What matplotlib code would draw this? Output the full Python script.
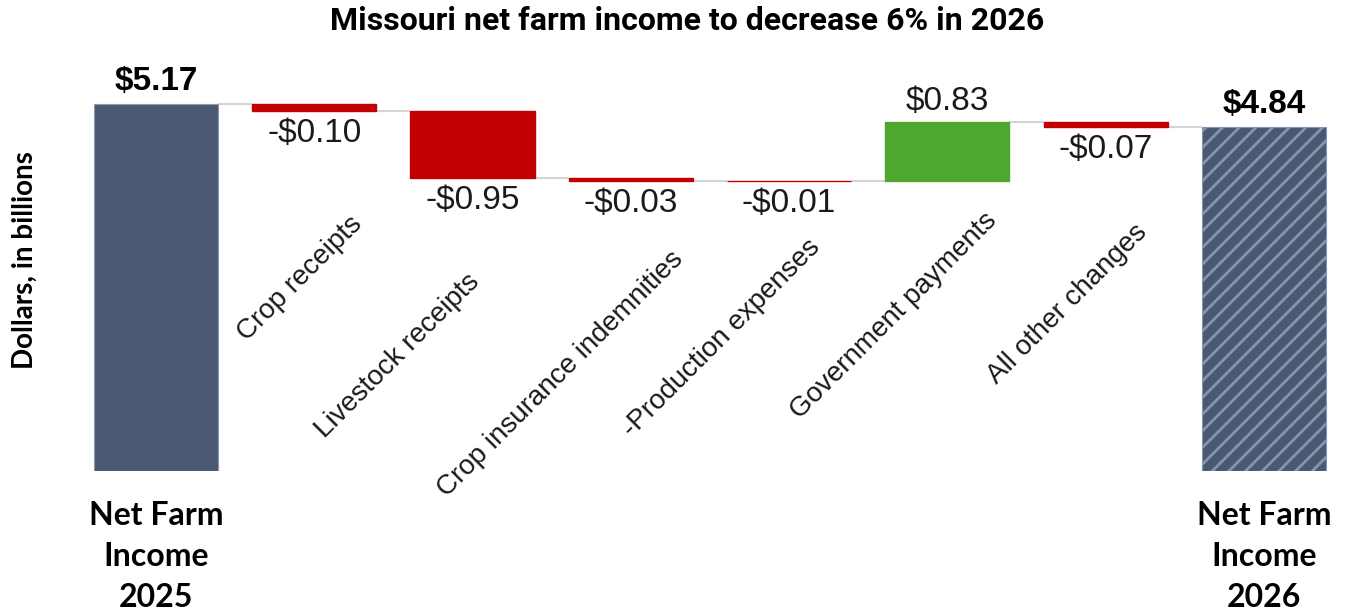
import matplotlib
matplotlib.use("Agg")
import matplotlib.pyplot as plt

# ---- data (billions of dollars) ----
start_label = "Net Farm\nIncome\n2025"
end_label = "Net Farm\nIncome\n2026"
start_value = 5.17
end_value = 4.84
change_labels = [
    "Crop receipts",
    "Livestock receipts",
    "Crop insurance indemnities",
    "-Production expenses",
    "Government payments",
    "All other changes",
]
change_values = [-0.10, -0.95, -0.03, -0.01, 0.83, -0.07]

# ---- style ----
TOTAL_COLOR = "#4A5971"
HATCH_COLOR = "#8196B0"
NEG_COLOR = "#C00000"
POS_COLOR = "#4EA72E"
CONNECTOR = "#D4D4D4"
BAR_W = 0.785

# baseline end of each rotated category name (x offset from bar centre, y in data units)
name_anchor = [(0.31, 3.46), (0.05, 2.65), (0.34, 2.97),
               (0.20, 3.14), (0.32, 3.51), (0.27, 3.35)]

plt.rcParams["hatch.linewidth"] = 2.0

fig = plt.figure(figsize=(13.48, 6.16), dpi=100)
ax = fig.add_axes([0.0571, 0.2354, 0.9392, 0.680])
ax.set_xlim(-0.5, 7.5)
ax.set_ylim(0, 5.9)
ax.axis("off")

n = len(change_values)
xs = list(range(n + 2))

# running totals for the floating bars
levels = [start_value]
for v in change_values:
    levels.append(levels[-1] + v)

# opening total
ax.bar(xs[0], start_value, width=BAR_W, color=TOTAL_COLOR,
       edgecolor="#8A98AC", linewidth=0.8, zorder=3)
# closing total, hatched
ax.bar(xs[-1], end_value, width=BAR_W, color=TOTAL_COLOR,
       edgecolor=HATCH_COLOR, linewidth=0.8, hatch="//", zorder=3)

# floating change bars
for i, v in enumerate(change_values):
    base = levels[i]
    color = POS_COLOR if v > 0 else NEG_COLOR
    ax.bar(xs[i + 1], v, bottom=base, width=BAR_W, color=color,
           edgecolor=color, linewidth=1.0, zorder=3)

# connectors between consecutive bars
conn_levels = levels + [end_value]
for i in range(n + 1):
    ax.plot([xs[i] + BAR_W / 2, xs[i + 1] - BAR_W / 2],
            [conn_levels[i], conn_levels[i]],
            color=CONNECTOR, linewidth=1.5, zorder=2, solid_capstyle="butt")

# value labels
value_font = "Liberation Sans"
for x, val in ((xs[0], start_value), (xs[-1], end_value)):
    ax.annotate(f"${val:.2f}", (x, val), xytext=(0, 5),
                textcoords="offset points", ha="center", va="bottom",
                fontsize=24, fontweight="bold", family=value_font)
for i, v in enumerate(change_values):
    top = max(levels[i], levels[i + 1])
    bot = min(levels[i], levels[i + 1])
    if v >= 0:
        ax.annotate(f"${v:.2f}", (xs[i + 1], top), xytext=(0, 4),
                    textcoords="offset points", ha="center", va="bottom",
                    fontsize=24, family=value_font, color="#1A1A1A")
    else:
        ax.annotate(f"-${abs(v):.2f}", (xs[i + 1], bot), xytext=(0, -5),
                    textcoords="offset points", ha="center", va="top",
                    fontsize=24, family=value_font, color="#1A1A1A")

# rotated category names
for i, name in enumerate(change_labels):
    dx, y = name_anchor[i]
    ax.text(xs[i + 1] + dx, y, name, rotation=45, rotation_mode="anchor",
            ha="right", va="baseline", fontsize=20, family=value_font,
            color="#1A1A1A", zorder=4)

# total category names below the axis
for x, name in ((xs[0], start_label), (xs[-1], end_label)):
    ax.text(x, -0.42, name, ha="center", va="top", fontsize=23,
            fontweight="bold", family="Lato", linespacing=1.5,
            clip_on=False)

fig.text(0.0185, 0.578, "Dollars, in billions", rotation=90,
         ha="center", va="center", fontsize=20, fontweight="bold",
         family="Lato")
fig.suptitle("Missouri net farm income to decrease 6% in 2026",
             x=0.51, y=0.99, va="top", fontsize=23, fontweight="bold",
             family="Roboto")

fig.savefig("out.png", dpi=100, facecolor="white")
